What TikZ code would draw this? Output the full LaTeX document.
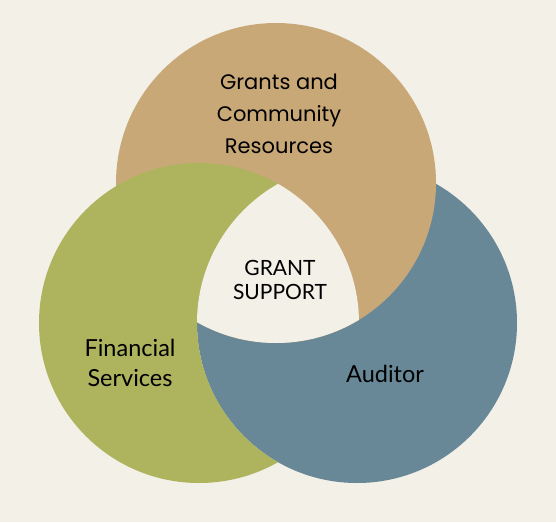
\documentclass[tikz,border=0pt]{standalone}
\usepackage{fontspec}
\setmainfont{Poppins}
\newfontfamily\lightfont{Lato}
\definecolor{bgc}{HTML}{F3F0E8}
\definecolor{tanc}{HTML}{C9A878}
\definecolor{greenc}{HTML}{AEB45E}
\definecolor{bluec}{HTML}{688898}
\begin{document}
\begin{tikzpicture}[x=1pt,y=-1pt,
  toplabel/.style={font=\fontsize{21}{32}\selectfont, align=center, text=black},
  sidelabel/.style={font=\lightfont\fontsize{23.5}{30}\selectfont, align=center, text=black},
  midlabel/.style={font=\lightfont\fontsize{21}{23.5}\selectfont, align=center, text=black}]
\fill[bgc] (0,0) rectangle (556,522);
\useasboundingbox (0,0) rectangle (556,522);
\coordinate (T) at (276,183);
\coordinate (G) at (199,323);
\coordinate (B) at (357,323);
\fill[bluec] (B) circle (160);
\fill[tanc] (T) circle (160);
\begin{scope}
  \clip (G) circle (160);
  \fill[greenc, even odd rule] (-10,-10) rectangle (566,532) (B) circle (160);
\end{scope}
\begin{scope}
  \clip (T) circle (160);
  \clip (G) circle (160);
  \fill[bgc] (B) circle (160);
\end{scope}
\node[toplabel] (top) at (279,114) {Grants and\\Community\\Resources};
\node[midlabel] (mid) at (280,280) {GRANT\\SUPPORT};
\node[sidelabel] (left) at (130,363) {Financial\\Services};
\node[sidelabel] (right) at (385,374) {Auditor};
\end{tikzpicture}
\end{document}
